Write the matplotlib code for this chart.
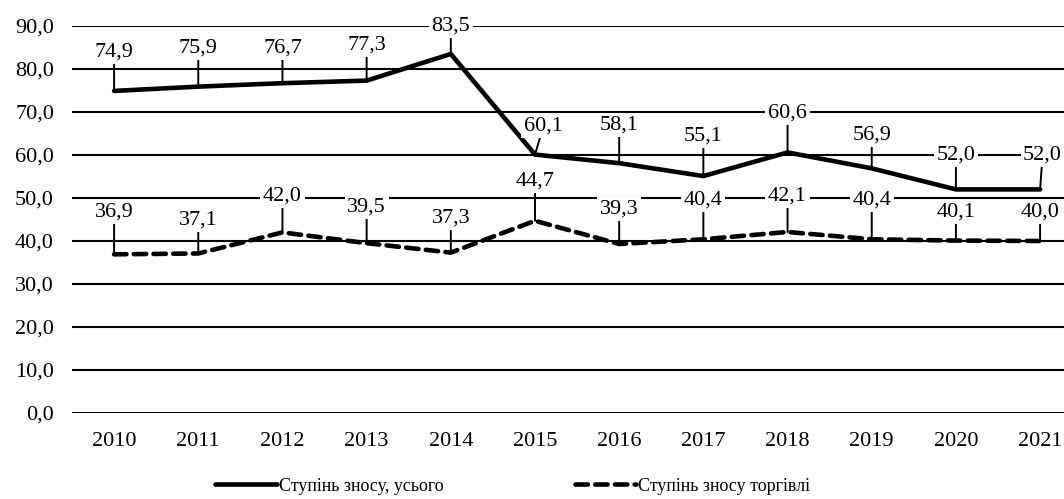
import matplotlib
matplotlib.use("Agg")
import matplotlib.pyplot as plt

years = ["2010", "2011", "2012", "2013", "2014", "2015", "2016", "2017", "2018", "2019", "2020", "2021"]
total_wear = [74.9, 75.9, 76.7, 77.3, 83.5, 60.1, 58.1, 55.1, 60.6, 56.9, 52.0, 52.0]
trade_wear = [36.9, 37.1, 42.0, 39.5, 37.3, 44.7, 39.3, 40.4, 42.1, 40.4, 40.1, 40.0]
series_names = ["Ступінь зносу, усього", "Ступінь зносу торгівлі"]
y_ticks = [0, 10, 20, 30, 40, 50, 60, 70, 80, 90]

# label placement (data coords of label centre)
total_lab_y = [84.0, 84.9, 84.9, 85.6, 90.0, 66.7, 67.0, 64.4, 69.8, 64.7, 60.0, 60.0]
total_lab_dx = [0, 0, 0, 0, 0, 0.1, 0, 0, 0, 0, 0, 0.03]
trade_lab_y = [46.7, 44.9, 50.5, 47.9, 45.3, 54.0, 47.4, 49.5, 50.5, 49.5, 46.7, 46.7]

plt.rcParams['font.family'] = ['Liberation Serif', 'DejaVu Serif']

fig = plt.figure(figsize=(10.64, 4.99), dpi=100)
ax = fig.add_axes([72 / 1064, 1 - 413 / 499, 1 - 72 / 1064, (413 - 26) / 499])

x = list(range(len(years)))
for yv in y_ticks:
    ax.axhline(yv, color='black', lw=1.5, zorder=1)

l1, = ax.plot(x, total_wear, color='black', lw=3.3, solid_capstyle='round', zorder=3, label=series_names[0])
l2, = ax.plot(x, trade_wear, color='black', lw=3.3, dashes=(2.7, 1.6), dash_capstyle='round', zorder=3, label=series_names[1])

def fmt(v):
    return f"{v:.1f}".replace('.', ',')

for i, v in enumerate(total_wear):
    ax.annotate(fmt(v), xy=(i, v), xytext=(i + total_lab_dx[i], total_lab_y[i]),
                ha='center', va='center', fontsize=16, zorder=5,
                bbox=dict(boxstyle='square,pad=0.12', fc='white', ec='none'),
                arrowprops=dict(arrowstyle='-', color='black', lw=1.4, shrinkA=0, shrinkB=0))
for i, v in enumerate(trade_wear):
    ax.annotate(fmt(v), xy=(i, v), xytext=(i, trade_lab_y[i]),
                ha='center', va='center', fontsize=16, zorder=5,
                bbox=dict(boxstyle='square,pad=0.12', fc='white', ec='none'),
                arrowprops=dict(arrowstyle='-', color='black', lw=1.4, shrinkA=0, shrinkB=0))

ax.set_xlim(-0.5, 11.284)
ax.set_ylim(0, 90)
ax.set_yticks(y_ticks)
ax.set_yticklabels([fmt(v) for v in y_ticks], fontsize=16)
ax.set_xticks(x)
ax.set_xticklabels(years, fontsize=16)
ax.tick_params(axis='x', length=0, pad=14)
ax.tick_params(axis='y', length=0, pad=13)
for s in ax.spines.values():
    s.set_visible(False)

fig.legend(handles=[l1, l2], loc='center', bbox_to_anchor=(0.482, 0.026), ncol=2,
           frameon=False, fontsize=13, handlelength=3.4, handletextpad=0.1,
           columnspacing=7.3)

fig.savefig("out.png", dpi=100)
